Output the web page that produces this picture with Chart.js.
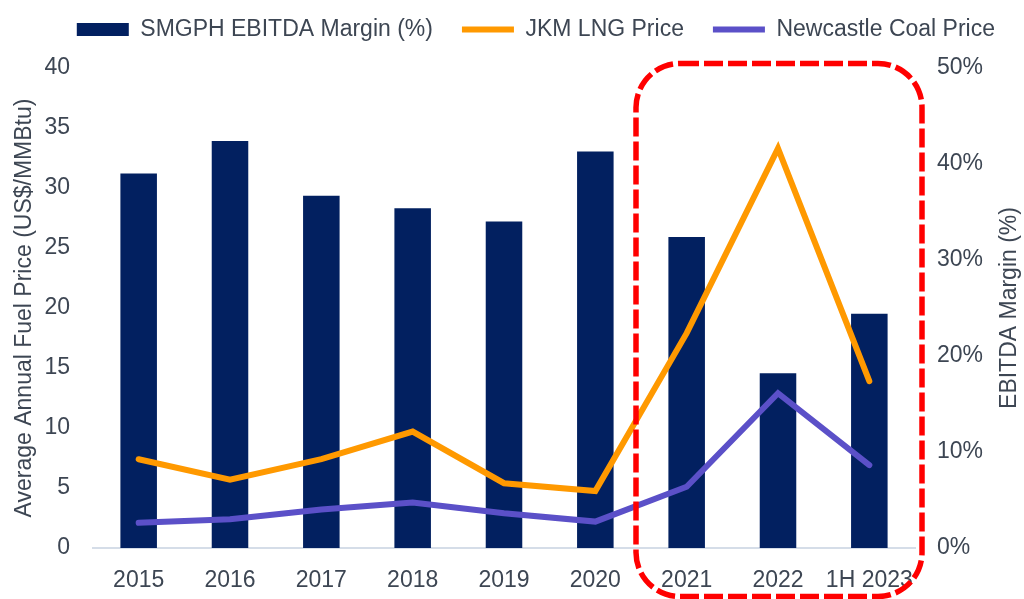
<!DOCTYPE html>
<html>
<head>
<meta charset="utf-8">
<script src="https://cdn.jsdelivr.net/npm/chart.js@4.4.1/dist/chart.umd.min.js"></script>
<style>
  html, body { margin: 0; padding: 0; background: #fff; }
  #wrap { width: 1024px; height: 599px; position: relative; }
</style>
</head>
<body>
<div id="wrap"><canvas id="chart"></canvas></div>
<script>
// values
var years = ['2015', '2016', '2017', '2018', '2019', '2020', '2021', '2022', '1H 2023'];
var ebitdaMargin = [39.0, 42.4, 36.7, 35.4, 34.0, 41.3, 32.4, 18.2, 24.4];   // %
var jkmPrice = [7.4, 5.7, 7.4, 9.7, 5.4, 4.75, 17.9, 33.3, 13.9];            // US$/MMBtu
var newcastlePrice = [2.1, 2.4, 3.2, 3.8, 2.9, 2.2, 5.1, 12.9, 6.9];        // US$/MMBtu

var textColour = '#3d4653';
var fontFamily = '"Liberation Sans", Arial, sans-serif';
Chart.defaults.font.family = fontFamily;
Chart.defaults.font.size = 23;
Chart.defaults.color = textColour;

var layoutTop = -11;
var plotTop = 68;

// make the legend reach down to where the plot starts
var legendSpace = {
	id: 'legendSpace',
	beforeInit: function(chart) {
		var origFit = chart.legend.fit;
		chart.legend.fit = function() {
			origFit.bind(chart.legend)();
			this.height = plotTop - layoutTop;
		};
	}
};

// red dashed box round the last three years, plus right axis title
var highlightPlugin = {
	id: 'highlight',
	afterDraw: function(chart) {
		var ctx = chart.ctx;
		var x = chart.scales.x;
		var area = chart.chartArea;
		var left = (x.getPixelForValue(5) + x.getPixelForValue(6)) / 2 - 5;
		var right = area.right + 7;
		var top = area.top - 4.5;
		var bottom = chart.height - 2.5;
		ctx.save();
		ctx.strokeStyle = '#ff0000';
		ctx.lineWidth = 5.5;
		ctx.setLineDash([19, 5]);
		ctx.beginPath();
		ctx.roundRect(left, top, right - left, bottom - top, 44);
		ctx.stroke();
		ctx.restore();

		// right axis title reads bottom to top like the left one
		ctx.save();
		ctx.fillStyle = textColour;
		ctx.font = '23px ' + fontFamily;
		ctx.textAlign = 'center';
		ctx.textBaseline = 'middle';
		ctx.translate(1010, (area.top + area.bottom) / 2);
		ctx.rotate(-Math.PI / 2);
		ctx.fillText('EBITDA Margin (%)', 0, 0);
		ctx.restore();
	}
};

var config = {
	type: 'bar',
	data: {
		labels: years,
		datasets: [
			{
				type: 'bar',
				label: 'SMGPH EBITDA Margin (%)',
				data: ebitdaMargin,
				yAxisID: 'y1',
				backgroundColor: '#022060',
				borderWidth: 0,
				categoryPercentage: 0.8,
				barPercentage: 0.5,
				pointStyle: 'rect',
				order: 2
			},
			{
				type: 'line',
				label: 'JKM LNG Price',
				data: jkmPrice,
				yAxisID: 'y',
				borderColor: '#ff9900',
				backgroundColor: '#ff9900',
				borderWidth: 6,
				borderCapStyle: 'round',
				pointRadius: 0,
				tension: 0,
				pointStyle: 'line',
				order: 1
			},
			{
				type: 'line',
				label: 'Newcastle Coal Price',
				data: newcastlePrice,
				yAxisID: 'y',
				borderColor: '#5b50c8',
				backgroundColor: '#5b50c8',
				borderWidth: 6,
				borderCapStyle: 'round',
				pointRadius: 0,
				tension: 0,
				pointStyle: 'line',
				order: 1
			}
		]
	},
	options: {
		responsive: true,
		maintainAspectRatio: false,
		animation: false,
		layout: { padding: { top: layoutTop, left: 0, right: 0, bottom: 0 } },
		plugins: {
			legend: {
				position: 'top',
				align: 'end',
				labels: {
					usePointStyle: true,
					pointStyleWidth: 52,
					boxHeight: 13,
					padding: 29,
					color: textColour,
					font: { size: 23 },
					sort: function(a, b) { return a.datasetIndex - b.datasetIndex; }
				}
			},
			tooltip: { enabled: false }
		},
		scales: {
			x: {
				grid: { display: false, drawTicks: false },
				border: { display: true, color: '#d5dde8', width: 2 },
				ticks: { padding: 19, maxRotation: 0, autoSkip: false },
				afterFit: function(scale) { scale.height = 51; }
			},
			y: {
				position: 'left',
				min: 0,
				max: 40,
				ticks: { stepSize: 5, padding: 23 },
				grid: { display: false, drawTicks: false },
				border: { display: false },
				title: {
					display: true,
					text: 'Average Annual Fuel Price (US$/MMBtu)',
					padding: { top: 11, bottom: 0 }
				},
				afterFit: function(scale) { scale.width = 93; }
			},
			y1: {
				position: 'right',
				min: 0,
				max: 50,
				ticks: {
					stepSize: 10,
					padding: 22,
					callback: function(v) { return v + '%'; }
				},
				grid: { display: false, drawTicks: false },
				border: { display: false },
				afterFit: function(scale) { scale.width = 109; }
			}
		}
	},
	plugins: [legendSpace, highlightPlugin]
};

var ctx = document.getElementById('chart').getContext('2d');
window.myChart = new Chart(ctx, config);
</script>
</body>
</html>
